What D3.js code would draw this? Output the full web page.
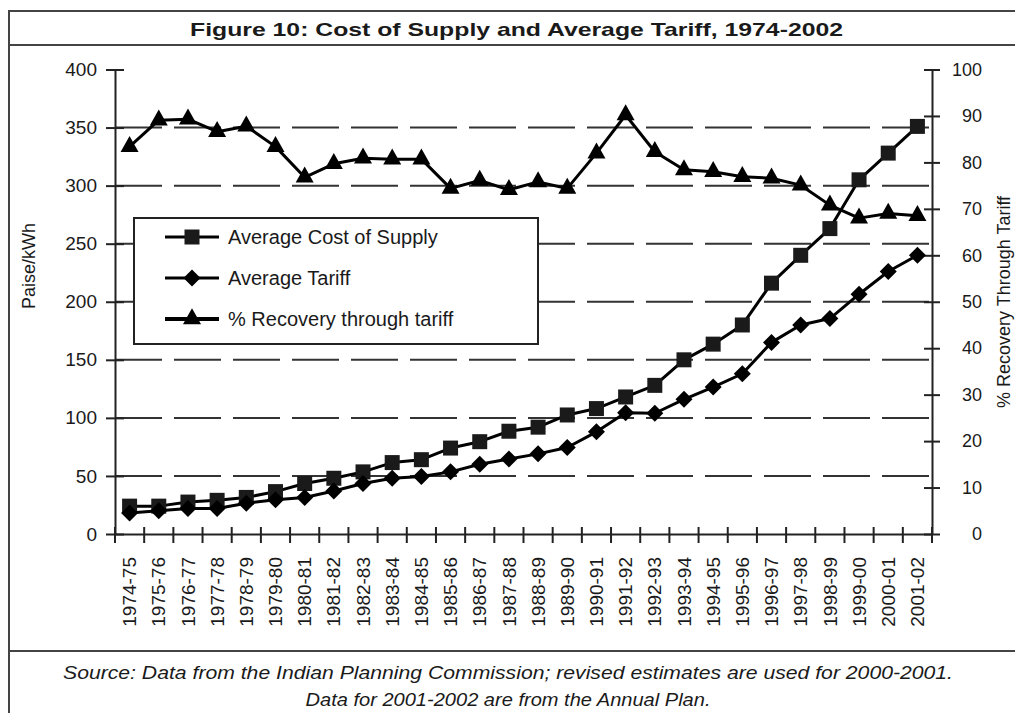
<!DOCTYPE html>
<html>
<head>
<meta charset="utf-8">
<script src="https://cdn.jsdelivr.net/npm/d3@7"></script>
<style>
  body { margin: 0; background: #fff; }
  svg { display: block; }
  text { font-family: "Liberation Sans", Arial, Helvetica, sans-serif; fill: #1a1a1a; }
</style>
</head>
<body>
<svg id="chart"></svg>
<script>
// data
const years = ['1974-75', '1975-76', '1976-77', '1977-78', '1978-79', '1979-80', '1980-81',
  '1981-82', '1982-83', '1983-84', '1984-85', '1985-86', '1986-87', '1987-88', '1988-89',
  '1989-90', '1990-91', '1991-92', '1992-93', '1993-94', '1994-95', '1995-96', '1996-97',
  '1997-98', '1998-99', '1999-00', '2000-01', '2001-02'];

// paise/kWh
const costOfSupply = [24, 24, 27.5, 29, 31.5, 36.5, 43.5, 48, 53.5, 61.5, 64, 74, 79.5, 88.5,
  92, 102.5, 108, 118, 128, 150, 163.5, 180, 216, 240, 263, 305, 328, 351];
const avgTariff = [18, 20, 22, 22, 26.5, 29.5, 31.5, 37, 43.5, 48, 49.5, 53.5, 60, 64.5,
  69, 74.5, 88, 104.5, 104, 116, 126.5, 138, 165, 180, 185.5, 206.5, 226, 240];
// percent
const recovery = [83.4, 89.1, 89.3, 86.6, 87.8, 83.4, 76.8, 79.7, 80.9, 80.7, 80.7, 74.4,
  76.1, 74.1, 75.8, 74.4, 82.0, 90.2, 82.3, 78.4, 78.0, 76.9, 76.6, 75.1, 70.8, 68.0, 69.0, 68.5];

const leftTicks = [0, 50, 100, 150, 200, 250, 300, 350, 400];
const rightTicks = [0, 10, 20, 30, 40, 50, 60, 70, 80, 90, 100];
const gridValues = [50, 100, 150, 200, 250, 300, 350];

const seriesNames = ['Average Cost of Supply', 'Average Tariff', '% Recovery through tariff'];
const titleText = 'Figure 10: Cost of Supply and Average Tariff, 1974-2002';
const sourceLines = [
  'Source: Data from the Indian Planning Commission; revised estimates are used for 2000-2001.',
  'Data for 2001-2002 are from the Annual Plan.'
];

const width = 1015, height = 713;
const plot = { left: 115, right: 932, top: 69.5, bottom: 534 };

const svg = d3.select('#chart').attr('width', width).attr('height', height);

// frame
const frame = svg.append('g').attr('stroke', '#444').attr('stroke-width', 2);
frame.append('line').attr('x1', 9).attr('x2', width).attr('y1', 11).attr('y2', 11);
frame.append('line').attr('x1', 9).attr('x2', width).attr('y1', 45).attr('y2', 45);
frame.append('line').attr('x1', 9).attr('x2', width).attr('y1', 651).attr('y2', 651);
frame.append('line').attr('x1', 9).attr('x2', 9).attr('y1', 10).attr('y2', height);

svg.append('text')
  .attr('x', 516.5).attr('y', 36)
  .attr('text-anchor', 'middle')
  .attr('font-size', 19).attr('font-weight', 'bold')
  .attr('textLength', 653).attr('lengthAdjust', 'spacingAndGlyphs')
  .text(titleText);

svg.selectAll('.source')
  .data(sourceLines)
  .enter()
  .append('text')
  .attr('class', 'source')
  .attr('x', 508)
  .attr('y', (d, i) => 679 + i * 27)
  .attr('text-anchor', 'middle')
  .attr('font-size', 18).attr('font-style', 'italic')
  .attr('textLength', (d, i) => [890, 405][i])
  .attr('lengthAdjust', 'spacingAndGlyphs')
  .text(d => d);

// scales
const x = d3.scaleBand().domain(years).range([plot.left, plot.right]);
const y = d3.scaleLinear().domain([0, 400]).range([plot.bottom, plot.top]);
const y2 = d3.scaleLinear().domain([0, 100]).range([plot.bottom, plot.top]);
const cx = d => x(d) + x.bandwidth() / 2;

// dashed grid
svg.append('g')
  .selectAll('line')
  .data(gridValues)
  .enter()
  .append('line')
  .attr('x1', plot.left).attr('x2', plot.right)
  .attr('y1', d => y(d)).attr('y2', d => y(d))
  .attr('stroke', '#333').attr('stroke-width', 2)
  .attr('stroke-dasharray', '47,12');

// left axis
const leftAxis = svg.append('g')
  .attr('transform', `translate(${plot.left},0)`)
  .call(d3.axisLeft(y).tickValues(leftTicks).tickSize(9).tickSizeOuter(0).tickPadding(9));
leftAxis.attr('font-size', 19).attr('font-family', null);
leftAxis.selectAll('.tick line').attr('x1', 9).attr('stroke', '#222').attr('stroke-width', 2);
leftAxis.select('.domain').attr('stroke', '#222').attr('stroke-width', 2);
leftAxis.selectAll('text').attr('fill', '#1a1a1a');

// right axis
const rightAxis = svg.append('g')
  .attr('transform', `translate(${plot.right},0)`)
  .call(d3.axisRight(y2).tickValues(rightTicks).tickSize(8).tickSizeOuter(0));
rightAxis.attr('font-size', 18).attr('font-family', null);
rightAxis.selectAll('.tick line').attr('x1', -8).attr('stroke', '#222').attr('stroke-width', 2);
rightAxis.select('.domain').attr('stroke', '#222').attr('stroke-width', 2);
rightAxis.selectAll('text').attr('x', 50).attr('text-anchor', 'end').attr('fill', '#1a1a1a');

// bottom axis: labels at band centres, ticks at band edges
const bottomAxis = svg.append('g')
  .attr('transform', `translate(0,${plot.bottom})`)
  .call(d3.axisBottom(x).tickSize(0).tickSizeOuter(0));
bottomAxis.attr('font-size', 19).attr('font-family', null);
bottomAxis.select('.domain').attr('stroke', '#222').attr('stroke-width', 2);
bottomAxis.selectAll('text')
  .attr('x', -23).attr('y', 0).attr('dy', '0.35em')
  .attr('transform', 'rotate(-90)')
  .attr('text-anchor', 'end')
  .attr('fill', '#1a1a1a');
bottomAxis.selectAll('.edge')
  .data(years.concat(['end']))
  .enter()
  .append('line')
  .attr('class', 'edge')
  .attr('x1', d => d === 'end' ? x(years[years.length - 1]) + x.bandwidth() : x(d))
  .attr('x2', d => d === 'end' ? x(years[years.length - 1]) + x.bandwidth() : x(d))
  .attr('y1', -7).attr('y2', 9)
  .attr('stroke', '#222').attr('stroke-width', 2);

// axis titles
svg.append('text')
  .attr('transform', 'translate(35,266) rotate(-90)')
  .attr('text-anchor', 'middle')
  .attr('font-size', 18)
  .text('Paise/kWh');
svg.append('text')
  .attr('transform', 'translate(1010,302) rotate(-90)')
  .attr('text-anchor', 'middle')
  .attr('font-size', 18)
  .text('% Recovery Through Tariff');

// legend
const legend = svg.append('g');
legend.append('rect')
  .attr('x', 134).attr('y', 218).attr('width', 404).attr('height', 126)
  .attr('fill', '#fff').attr('stroke', '#222').attr('stroke-width', 2);

const markers = {
  square: 'M-7.5,-7.5H7.5V7.5H-7.5Z',
  diamond: 'M0,-8.5L8.5,0L0,8.5L-8.5,0Z',
  triangle: 'M0,-10.7L9,5.3L-9,5.3Z'
};
const markerKeys = ['square', 'diamond', 'triangle'];
const markerFill = ['#1a1a1a', '#000', '#000'];

const items = legend.selectAll('.item')
  .data(seriesNames)
  .enter()
  .append('g')
  .attr('class', 'item')
  .attr('transform', (d, i) => `translate(0,${237 + i * 41})`);
items.append('line')
  .attr('x1', 165).attr('x2', 219)
  .attr('stroke', '#000').attr('stroke-width', (d, i) => i === 2 ? 4 : 3);
items.append('path')
  .attr('transform', 'translate(192,0)')
  .attr('d', (d, i) => markers[markerKeys[i]])
  .attr('fill', (d, i) => markerFill[i]);
items.append('text')
  .attr('x', 228).attr('y', 7)
  .attr('font-size', 20)
  .text(d => d);

// series
const series = [
  { values: costOfSupply, scale: y, marker: 'square', fill: '#1a1a1a' },
  { values: avgTariff, scale: y, marker: 'diamond', fill: '#000' },
  { values: recovery, scale: y2, marker: 'triangle', fill: '#000' }
];

series.forEach(s => {
  const pts = years.map((yr, i) => [cx(yr), s.scale(s.values[i])]);
  svg.append('path')
    .attr('d', d3.line()(pts))
    .attr('fill', 'none')
    .attr('stroke', '#000')
    .attr('stroke-width', 3)
    .attr('stroke-linejoin', 'round');
  svg.append('g')
    .selectAll('path')
    .data(pts)
    .enter()
    .append('path')
    .attr('transform', d => `translate(${d[0]},${d[1]})`)
    .attr('d', markers[s.marker])
    .attr('fill', s.fill);
});
</script>
</body>
</html>
